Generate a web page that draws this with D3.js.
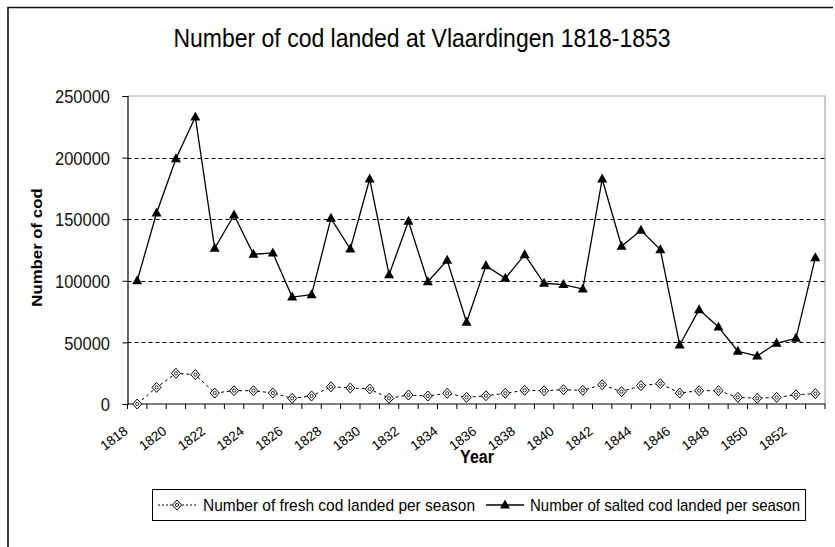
<!DOCTYPE html>
<html>
<head>
<meta charset="utf-8">
<script src="https://cdn.jsdelivr.net/npm/d3@7"></script>
<style>
  html, body { margin: 0; padding: 0; background: #fff; }
  svg { display: block; font-family: "Liberation Sans", Arial, sans-serif; }
</style>
</head>
<body>
<svg id="chart" width="835" height="547"></svg>
<script>
// ---- data ----
const years = d3.range(1818, 1854).map(String);
const freshCod = [0, 13500, 24900, 23800, 8900, 10800, 10800, 8900, 4600, 6500, 14000, 13000, 12200,
  4600, 7300, 6500, 8700, 5400, 6700, 8700, 11100, 10800, 11600, 11100, 15700,
  10000, 14900, 16500, 8900, 10800, 10800, 5400, 4600, 5400, 7500, 8400];
const saltedCod = [100000, 155000, 199000, 233000, 126400, 153400, 121500, 122600, 86800, 88700, 150700, 125800, 182600,
  105000, 148300, 99300, 116600, 66300, 112300, 102000, 121200, 98000, 96900, 93300, 182600,
  128000, 141000, 125300, 47900, 76600, 62500, 42800, 39000, 49300, 53300, 118800];
const yTicks = [0, 50000, 100000, 150000, 200000, 250000];
const xLabelYears = years.filter((d, i) => i % 2 === 0);
const titleText = "Number of cod landed at Vlaardingen 1818-1853";
const seriesNames = ["Number of fresh cod landed per season", "Number of salted cod landed per season"];

(function () {
// ---- layout ----
const SY = 1.12; // vertical stretch of the original picture's text
const svg = d3.select("#chart");
const pL = 127.5, pR = 825, pT = 96, pB = 404;

const x = d3.scaleBand().domain(years).range([pL, pR]);
const y = d3.scaleLinear().domain([0, 250000]).range([pB, pT]);
const cx = d => x(d) + x.bandwidth() / 2;

// outer chart border
svg.append("path")
  .attr("d", `M8,560 L8,7.5 L833,7.5`)
  .attr("fill", "none").attr("stroke", "#111").attr("stroke-width", 1.6);

// title
svg.append("text")
  .attr("transform", `translate(422,46.5) scale(1,${SY})`)
  .attr("text-anchor", "middle")
  .attr("font-size", 23).attr("fill", "#000")
  .text(titleText);

// plot area border (top / right gray)
svg.append("path")
  .attr("d", `M${pL},${pT} L${pR},${pT} L${pR},${pB}`)
  .attr("fill", "none").attr("stroke", "#a8a8a8").attr("stroke-width", 1.2);

// gridlines
svg.append("g").selectAll("line")
  .data(yTicks.filter(t => t > 0 && t < 250000))
  .join("line")
  .attr("x1", pL).attr("x2", pR)
  .attr("y1", d => Math.round(y(d)) + 0.5).attr("y2", d => Math.round(y(d)) + 0.5)
  .attr("stroke", "#000").attr("stroke-width", 1.1)
  .attr("stroke-dasharray", "4,3");

// y axis
const yAxis = d3.axisLeft(y).tickValues(yTicks).tickSize(5).tickFormat(d3.format("d"));
const gy = svg.append("g").attr("transform", `translate(${pL},0)`).call(yAxis);
gy.select(".domain").attr("stroke", "#000").attr("stroke-width", 1.2);
gy.selectAll(".tick line").attr("stroke", "#000");
gy.selectAll(".tick text").each(function(d) {
  d3.select(this)
   .attr("x", null)
   .attr("transform", `translate(-17.5,0) scale(1,${SY})`)
   .attr("dy", "0.36em")
   .attr("font-size", 16.5).attr("fill", "#111")
   .attr("font-family", "Liberation Sans, Arial, sans-serif");
});

// x axis: ticks at category boundaries
const boundaries = years.map(d => x(d)).concat([pR]);
svg.append("g").selectAll("line")
  .data(boundaries)
  .join("line")
  .attr("x1", d => d).attr("x2", d => d)
  .attr("y1", pB).attr("y2", pB + 5)
  .attr("stroke", "#000").attr("stroke-width", 1);
svg.append("line")
  .attr("x1", pL).attr("x2", pR).attr("y1", pB).attr("y2", pB)
  .attr("stroke", "#000").attr("stroke-width", 1.2);

// x labels
svg.append("g").selectAll("text")
  .data(xLabelYears)
  .join("text")
  .attr("transform", d => `translate(${cx(d) - 8.5},433) rotate(-37)`)
  .attr("text-anchor", "end")
  .attr("font-size", 13.5).attr("fill", "#000")
  .text(d => d);

// axis titles
svg.append("text")
  .attr("transform", `translate(477,463) scale(1,${SY})`)
  .attr("text-anchor", "middle").attr("font-weight", "bold")
  .attr("font-size", 16).attr("fill", "#000")
  .text("Year");
svg.append("text")
  .attr("transform", `translate(42,247.5) scale(1,${SY}) rotate(-90)`)
  .attr("text-anchor", "middle").attr("font-weight", "bold")
  .attr("font-size", 15).attr("fill", "#000")
  .text("Number of cod");

// series lines
const line = d3.line().x((d, i) => cx(years[i])).y(d => y(d));
svg.append("path").datum(freshCod)
  .attr("d", line).attr("fill", "none")
  .attr("stroke", "#000").attr("stroke-width", 1).attr("stroke-dasharray", "3,3");
svg.append("path").datum(saltedCod)
  .attr("d", line).attr("fill", "none")
  .attr("stroke", "#000").attr("stroke-width", 1.3);

// markers
function diamond(g, px, py) {
  g.append("path")
    .attr("d", `M${px},${py - 5} L${px + 4.5},${py} L${px},${py + 5} L${px - 4.5},${py} Z`)
    .attr("fill", "#fff").attr("stroke", "#000").attr("stroke-width", 1);
  g.append("circle").attr("cx", px).attr("cy", py).attr("r", 1.6)
    .attr("fill", "none").attr("stroke", "#000").attr("stroke-width", 0.8);
}
function triangle(g, px, py) {
  g.append("path")
    .attr("d", `M${px},${py - 5.5} L${px + 5},${py + 3.5} L${px - 5},${py + 3.5} Z`)
    .attr("fill", "#000");
}
const gm = svg.append("g");
freshCod.forEach((v, i) => diamond(gm, cx(years[i]), y(v)));
saltedCod.forEach((v, i) => triangle(gm, cx(years[i]), y(v)));

// legend
const lg = svg.append("g");
lg.append("rect").attr("x", 152.5).attr("y", 489.5).attr("width", 653).attr("height", 31)
  .attr("fill", "#fff").attr("stroke", "#000").attr("stroke-width", 1);
const ly = 505;
lg.append("line").attr("x1", 158).attr("x2", 196).attr("y1", ly).attr("y2", ly)
  .attr("stroke", "#000").attr("stroke-dasharray", "2,2");
diamond(lg, 177, ly);
lg.append("text")
  .attr("transform", `translate(203,${ly + 5.5}) scale(1,${SY})`)
  .attr("font-size", 15.5).attr("fill", "#000")
  .attr("textLength", 272).attr("lengthAdjust", "spacingAndGlyphs")
  .text(seriesNames[0]);
lg.append("line").attr("x1", 486).attr("x2", 524).attr("y1", ly).attr("y2", ly)
  .attr("stroke", "#000").attr("stroke-width", 1.3);
triangle(lg, 505, ly);
lg.append("text")
  .attr("transform", `translate(530,${ly + 5.5}) scale(1,${SY})`)
  .attr("font-size", 15.5).attr("fill", "#000")
  .attr("textLength", 270).attr("lengthAdjust", "spacingAndGlyphs")
  .text(seriesNames[1]);
})();
</script>
</body>
</html>
